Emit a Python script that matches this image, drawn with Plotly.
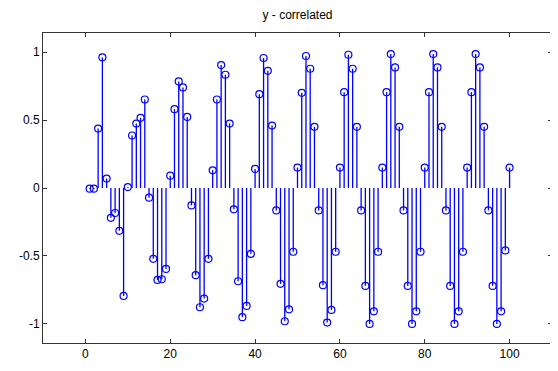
import plotly.graph_objects as go

n = list(range(1, 101))
y = [
    -0.005, -0.005, 0.437, 0.961, 0.069, -0.219, -0.184, -0.315, -0.794, 0.007,
    0.386, 0.474, 0.516, 0.651, -0.071, -0.521, -0.676, -0.671, -0.595, 0.091,
    0.580, 0.784, 0.740, 0.523, -0.128, -0.641, -0.877, -0.813, -0.521, 0.130,
    0.651, 0.904, 0.833, 0.474, -0.157, -0.686, -0.950, -0.867, -0.484, 0.140,
    0.690, 0.956, 0.862, 0.459, -0.165, -0.705, -0.980, -0.892, -0.469, 0.150,
    0.700, 0.971, 0.877, 0.450, -0.165, -0.715, -0.990, -0.897, -0.469, 0.150,
    0.705, 0.980, 0.877, 0.450, -0.165, -0.720, -1.000, -0.907, -0.469, 0.150,
    0.705, 0.985, 0.887, 0.450, -0.165, -0.720, -1.000, -0.907, -0.469, 0.150,
    0.705, 0.985, 0.887, 0.450, -0.165, -0.720, -1.000, -0.907, -0.469, 0.150,
    0.705, 0.985, 0.887, 0.450, -0.165, -0.720, -1.000, -0.907, -0.459, 0.150,
]
title = "y - correlated"
x_ticks = [0, 20, 40, 60, 80, 100]
y_ticks = [-1, -0.5, 0, 0.5, 1]
y_tick_text = ["-1", "-0.5", "0", "0.5", "1"]

blue = "rgb(0,0,255)"

sx, sy = [], []
for xi, yi in zip(n, y):
    sx += [xi, xi, None]
    sy += [0, yi, None]

fig = go.Figure()
fig.add_trace(go.Scatter(x=sx, y=sy, mode="lines",
                         line=dict(color=blue, width=1.3), hoverinfo="skip"))
fig.add_trace(go.Scatter(x=n, y=y, mode="markers",
                         marker=dict(symbol="circle-open", size=7, color=blue,
                                     line=dict(color=blue, width=1.2))))

axis_common = dict(showgrid=False, zeroline=False, showline=True, mirror="ticks",
                   linecolor="#333333", linewidth=1, ticks="inside", ticklen=4,
                   tickcolor="#333333", automargin=False,
                   tickfont=dict(family="Liberation Sans, Arial", size=12, color="#000000"))

W, H = 550, 363
fig.update_layout(
    width=W, height=H,
    margin=dict(l=35, r=6, t=25, b=28, autoexpand=False),
    paper_bgcolor="white", plot_bgcolor="white",
    showlegend=False,
    title=dict(text=title, xref="paper", x=0.5, xanchor="center",
               yref="container", y=1 - 7/H, yanchor="middle",
               automargin=False,
               font=dict(family="Liberation Sans, Arial", size=12, color="#000000")),
    xaxis=dict(range=[-10, 110], tickvals=x_ticks, **axis_common),
    yaxis=dict(range=[-1.14, 1.14], tickvals=y_ticks, ticktext=y_tick_text, **axis_common),
)

fig.write_html("out.html")
